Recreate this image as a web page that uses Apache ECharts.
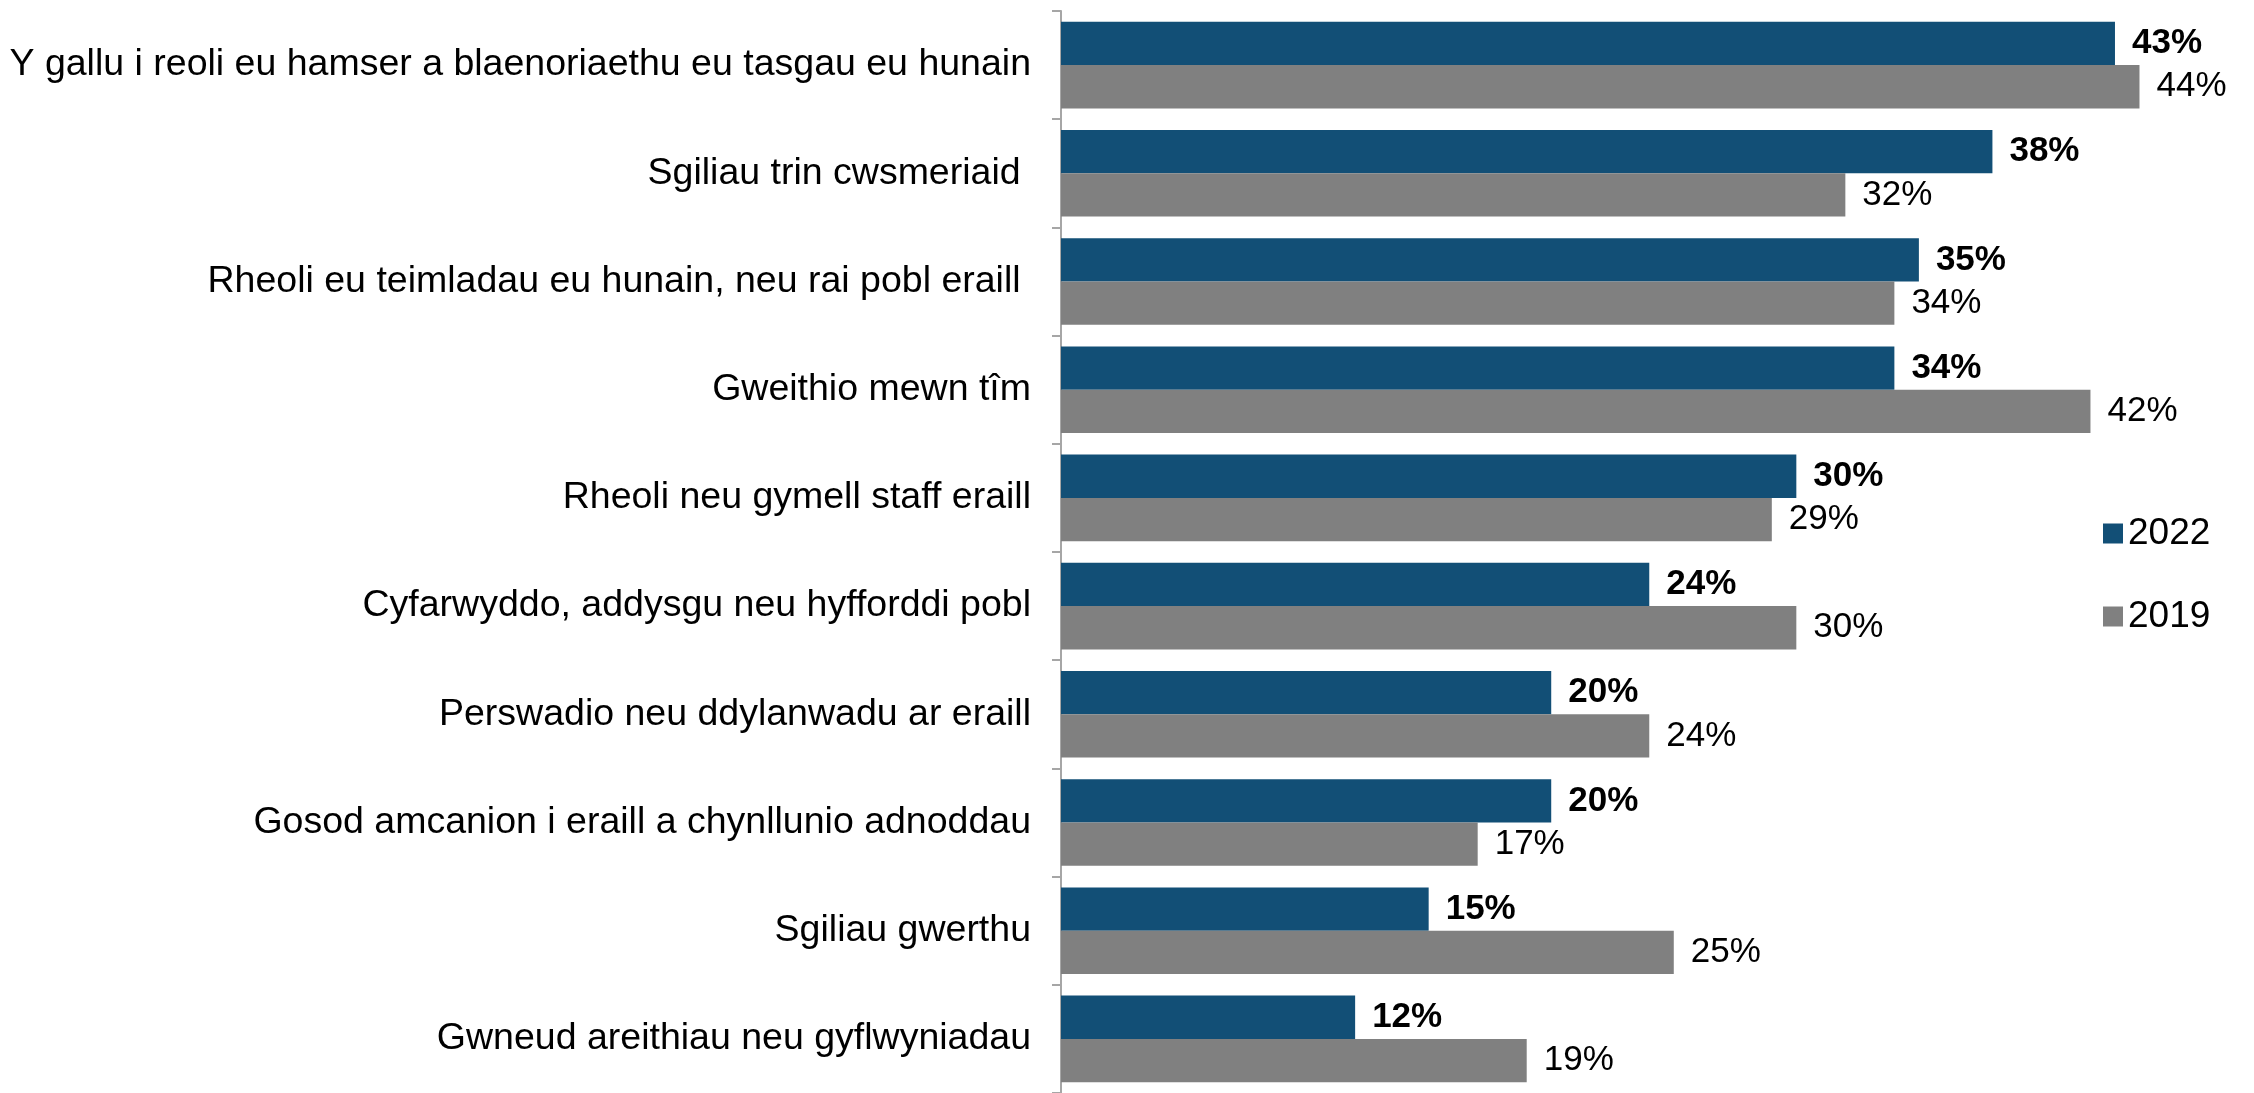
<!DOCTYPE html>
<html>
<head>
<meta charset="utf-8">
<script src="https://cdn.jsdelivr.net/npm/echarts@6/dist/echarts.min.js"></script>
<style>
  html, body { margin: 0; padding: 0; background: #fff; }
  #chart { width: 2254px; height: 1093px; }
</style>
</head>
<body>
<div id="chart"></div>
<script>
const categories = [
  'Y gallu i reoli eu hamser a blaenoriaethu eu tasgau eu hunain',
  'Sgiliau trin cwsmeriaid ',
  'Rheoli eu teimladau eu hunain, neu rai pobl eraill ',
  'Gweithio mewn tîm',
  'Rheoli neu gymell staff eraill',
  'Cyfarwyddo, addysgu neu hyfforddi pobl',
  'Perswadio neu ddylanwadu ar eraill',
  'Gosod amcanion i eraill a chynllunio adnoddau',
  'Sgiliau gwerthu',
  'Gwneud areithiau neu gyflwyniadau'
]
const values2022 = [43, 38, 35, 34, 30, 24, 20, 20, 15, 12]
const values2019 = [44, 32, 34, 42, 29, 30, 24, 17, 25, 19]

const chart = echarts.init(document.getElementById('chart'))
const font = 'Liberation Sans, Arial, sans-serif'

const option = {
  animation: false,
  textStyle: { fontFamily: font },
  grid: {
    left: 1061,
    top: 11,
    width: 1103,
    height: 1085
  },
  legend: {
    orient: 'vertical',
    left: 2098,
    top: 510,
    itemWidth: 20,
    itemHeight: 20,
    itemGap: 46,
    icon: 'rect',
    textStyle: { fontSize: 37, color: '#000', fontFamily: font },
    data: ['2022', '2019']
  },
  xAxis: {
    type: 'value',
    min: 0,
    max: 45,
    show: false
  },
  yAxis: {
    type: 'category',
    inverse: true,
    data: categories,
    axisLine: { show: true, lineStyle: { color: '#a6a6a6', width: 2 } },
    axisTick: { show: true, length: 9, lineStyle: { color: '#a6a6a6', width: 2 } },
    axisLabel: { fontSize: 37.5, color: '#000', margin: 30, fontFamily: font }
  },
  series: [
    {
      name: '2022',
      type: 'bar',
      data: values2022,
      barGap: '0%',
      barCategoryGap: '20%',
      itemStyle: { color: '#124f76' },
      label: {
        show: true,
        position: 'right',
        distance: 17,
        formatter: '{c}%',
        fontSize: 35,
        fontWeight: 'bold',
        color: '#000',
        fontFamily: font
      }
    },
    {
      name: '2019',
      type: 'bar',
      data: values2019,
      itemStyle: { color: '#808080' },
      label: {
        show: true,
        position: 'right',
        distance: 17,
        formatter: '{c}%',
        fontSize: 35,
        color: '#000',
        fontFamily: font
      }
    }
  ]
}

chart.setOption(option)
</script>
</body>
</html>
